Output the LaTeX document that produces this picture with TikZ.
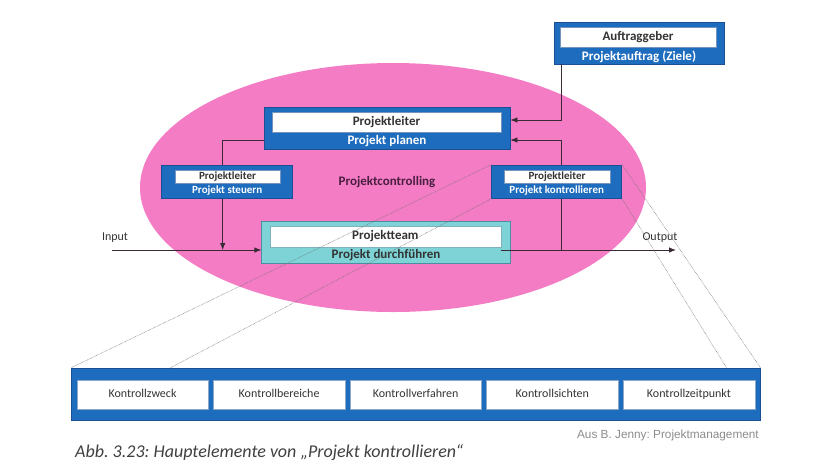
\documentclass[tikz,border=0pt]{standalone}
\usepackage{fontspec}
\setmainfont{Carlito}
\newfontfamily\quellfont{Liberation Sans}
\usetikzlibrary{shapes.geometric, arrows.meta, positioning}
\frenchspacing
\definecolor{KBlue}{HTML}{1E6CBE}
\definecolor{KEdge}{HTML}{1B4F93}
\definecolor{KPink}{HTML}{F47CC4}
\definecolor{KTeal}{HTML}{7DD3D6}
\definecolor{TealEdge}{HTML}{4B8FA2}
\definecolor{KText}{HTML}{333333}
\definecolor{KLine}{HTML}{3A2A36}
\definecolor{KPlum}{HTML}{4A1E40}

\tikzset{
  outerbox/.style={draw=KEdge, fill=KBlue, line width=0.8pt, inner sep=0pt},
  whitebox/.style={draw=KEdge!60, fill=white, line width=0.4pt, inner sep=0pt,
    text=KText, font=\fontsize{13}{15}\selectfont\bfseries},
  smallwhite/.style={whitebox, font=\fontsize{11}{13}\selectfont\bfseries},
  bluetext/.style={text=white, inner sep=0pt, font=\fontsize{13}{15}\selectfont\bfseries},
  smallblue/.style={bluetext, font=\fontsize{11}{13}\selectfont\bfseries},
  conn/.style={draw=KLine, line width=0.8pt},
  arr/.style={conn, -{Latex[length=7pt,width=5.5pt]}},
  zoomline/.style={draw=black!55, line width=0.5pt, dash pattern=on 0.6pt off 0.8pt},
  kbox/.style={draw=KEdge!50, fill=white, minimum width=131.6pt, minimum height=28.4pt,
    inner sep=0pt, text height=8.6pt, text depth=2.6pt, text=KText, font=\fontsize{12}{14}\selectfont},
}

\begin{document}
\begin{tikzpicture}[x=1pt, y=-1pt]
  \useasboundingbox (0,0) rectangle (823,467);
  % Projektcontrolling
  \node[ellipse, fill=KPink, minimum width=506pt, minimum height=249pt, inner sep=0pt] (pc) at (393,187.5) {};
  \node[text=KPlum, font=\fontsize{13}{15}\selectfont\bfseries] (pclbl) at (387,181.7) {Projektcontrolling};

  % Auftraggeber
  \node[outerbox, minimum width=170.3pt, minimum height=41.7pt] (auf) at (639.2,43.2) {};
  \node[whitebox, minimum width=156pt, minimum height=20pt] (aufw) at (638,37.5) {Auftraggeber};
  \node[bluetext] (aufb) at (639,56.5) {Projektauftrag (Ziele)};

  % Projekt planen
  \node[outerbox, minimum width=246pt, minimum height=42.5pt] (plan) at (387,128.3) {};
  \node[whitebox, minimum width=229pt, minimum height=20pt] (planw) at (386.5,122) {Projektleiter};
  \node[bluetext] (planb) at (387,141) {Projekt planen};

  % Projekt steuern
  \node[outerbox, minimum width=131pt, minimum height=33.3pt] (steu) at (227.2,181.7) {};
  \node[smallwhite, minimum width=105pt, minimum height=13.3pt] (steuw) at (227.5,176.7) {Projektleiter};
  \node[smallblue] (steub) at (227.2,190.5) {Projekt steuern};

  % Projekt kontrollieren
  \node[outerbox, minimum width=130pt, minimum height=33.3pt] (ktr) at (556.7,181.7) {};
  \node[smallwhite, minimum width=106pt, minimum height=13.3pt] (ktrw) at (557,176.7) {Projektleiter};
  \node[smallblue] (ktrb) at (556.7,190.5) {Projekt kontrollieren};

  % Projekt durchfuehren
  \node[draw=TealEdge, fill=KTeal, line width=0.8pt, minimum width=248.3pt, minimum height=41.6pt, inner sep=0pt] (team) at (385.9,242.5) {};
  \node[whitebox, draw=TealEdge!70, minimum width=230.7pt, minimum height=20.7pt] (teamw) at (385.4,236.4) {Projektteam};
  \node[text=KText, inner sep=0pt, font=\fontsize{13}{15}\selectfont\bfseries] (teamb) at (386,255) {Projekt durchführen};

  % Hilfspunkte
  \coordinate (drop) at (561.2,120);
  \coordinate (back) at (561.2,140);
  \coordinate (stx) at (222.7,140);
  \coordinate (inp) at (111.7,250);
  \coordinate (outp) at (676,250);

  \node[text=KText, inner sep=0pt, font=\fontsize{12}{14}\selectfont] (inlbl) at (115,237.5) {Input};
  \node[text=KText, inner sep=0pt, font=\fontsize{12}{14}\selectfont] (outlbl) at (660,237.5) {Output};

  % Verbindungen
  \draw[arr] (auf.south -| drop) -- (drop) -- (plan.east |- drop);
  \draw[arr] (ktr.north -| back) -- (back) -- (plan.east |- back);
  \draw[conn] (plan.west |- stx) -- (stx) -- (steu.north -| stx);
  \draw[arr] (steu.south -| stx) -- (stx |- inp);
  \draw[arr] (inp) -- (team.west |- inp);
  \draw[arr] (teamw.east |- outp) -- (outp);
  \draw[conn] (ktr.south -| back) -- (back |- outp);

  % Kontrollelemente
  \node[outerbox, minimum width=688.3pt, minimum height=52.3pt] (ctl) at (415.9,394.2) {};
  \foreach \t [count=\i] in {Kontrollzweck, Kontrollbereiche, Kontrollverfahren, Kontrollsichten, Kontrollzeitpunkt}
    \node[kbox] (k\i) at ({142.5+(\i-1)*136.6}, 394.5) {\t};

  \coordinate (dl) at (170,368);
  \coordinate (dr) at (726.7,368);
  \draw[zoomline] (ktr.north west) -- (ctl.north west);
  \draw[zoomline] (ktr.south west) -- (dl);
  \draw[zoomline] (ktr.north east) -- (ctl.north east);
  \draw[zoomline] (ktr.south east) -- (dr);

  \node[anchor=east, text=black!45, inner sep=0pt, font=\quellfont\fontsize{11.8}{14}\selectfont] (quelle) at (759,435) {Aus B. Jenny: Projektmanagement};
  \node[anchor=west, text=black!75, inner sep=0pt, font=\fontsize{18}{21}\selectfont\itshape] (cap) at (75,452.3) {Abb. 3.23: Hauptelemente von „Projekt kontrollieren“};
\end{tikzpicture}
\end{document}
